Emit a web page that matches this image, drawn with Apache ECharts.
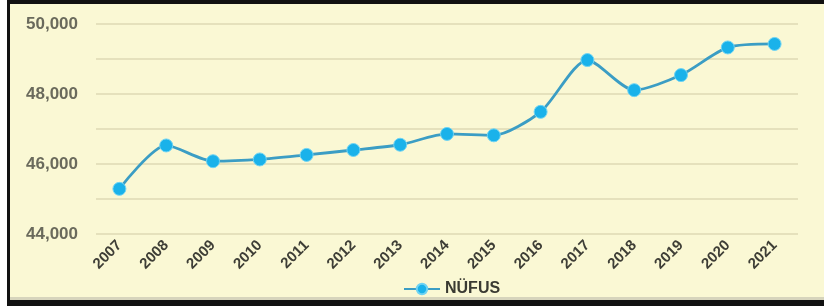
<!DOCTYPE html>
<html>
<head>
<meta charset="utf-8">
<script src="https://cdn.jsdelivr.net/npm/echarts@6/dist/echarts.min.js"></script>
<style>
    html, body { margin: 0; padding: 0; background: #fff; overflow: hidden; }
    #frame {
        position: absolute; left: 7px; top: 0; width: 830px; height: 306px;
        box-sizing: border-box;
        border-left: 3px solid #111; border-top: 4px solid #111; border-bottom: 6px solid #111;
        background: #faf8d4;
        box-shadow: inset 0 -3px 0 #d6d4bc;
    }
    #chart { position: absolute; left: 0; top: 0; width: 824px; height: 306px; }
</style>
</head>
<body>
<div id="frame"></div>
<div id="chart"></div>
<script>
var years = ['2007', '2008', '2009', '2010', '2011', '2012', '2013', '2014',
    '2015', '2016', '2017', '2018', '2019', '2020', '2021'];
var nufus = [45290, 46530, 46080, 46130, 46260, 46400, 46550, 46860,
    46820, 47490, 48970, 48110, 48540, 49330, 49430];
var yMin = 44000, yMax = 50000, yStep = 1000;

var chart = echarts.init(document.getElementById('chart'));
var option = {
    backgroundColor: 'transparent',
    grid: {
        left: 96,
        right: 26,
        top: 24,
        bottom: 72
    },
    legend: {
        left: 398,
        top: 276,
        itemWidth: 36,
        itemHeight: 13,
        textStyle: {
            fontFamily: 'Liberation Sans',
            fontSize: 16,
            fontWeight: 'bold',
            color: '#3a3a32'
        },
        data: ['NÜFUS']
    },
    xAxis: {
        type: 'category',
        data: years,
        boundaryGap: true,
        axisLine: { show: false },
        axisTick: { show: false },
        axisLabel: {
            interval: 0,
            rotate: 45,
            margin: 9,
            fontFamily: 'Liberation Sans',
            fontSize: 15,
            fontWeight: 'bold',
            color: '#3e3e36'
        }
    },
    yAxis: {
        type: 'value',
        min: yMin,
        max: yMax,
        interval: yStep,
        axisLine: { show: false },
        axisTick: { show: false },
        splitLine: {
            lineStyle: { color: '#dedab4', width: 1.5 }
        },
        axisLabel: {
            margin: 18,
            fontFamily: 'Liberation Sans',
            fontSize: 17,
            fontWeight: 'bold',
            color: '#6a6a5c',
            formatter: function (v) {
                if (v % 2000 !== 0) {
                    return '';
                }
                return v.toLocaleString('en-US');
            }
        }
    },
    series: [{
        name: 'NÜFUS',
        type: 'line',
        data: nufus,
        smooth: 0.25,
        symbol: 'circle',
        symbolSize: 13,
        lineStyle: { color: '#3b9dc4', width: 2.8 },
        itemStyle: { color: '#1ab2ea', borderColor: '#6fd3f3', borderWidth: 1 }
    }]
};
chart.setOption(option);
</script>
</body>
</html>
